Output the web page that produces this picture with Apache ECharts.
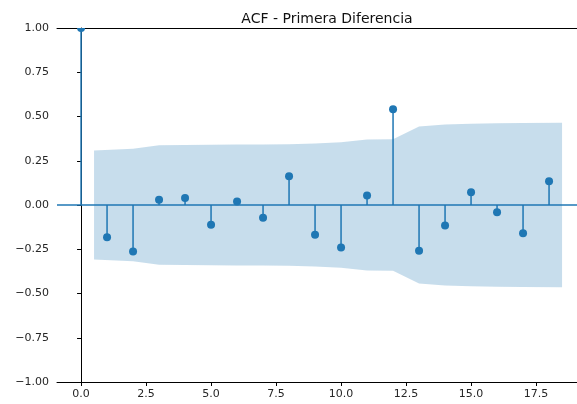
<!DOCTYPE html>
<html><head><meta charset="utf-8">
<script src="https://cdn.jsdelivr.net/npm/echarts@6/dist/echarts.min.js"></script>
<style>html,body{margin:0;padding:0;background:#fff}#c{width:577px;height:404px}</style>
</head><body><div id="c"></div>
<script>
const lags = [0,1,2,3,4,5,6,7,8,9,10,11,12,13,14,15,16,17,18];
const acfValues = [1.0,-0.182,-0.263,0.03,0.04,-0.112,0.02,-0.072,0.163,-0.168,-0.240,0.054,0.541,-0.259,-0.116,0.072,-0.041,-0.159,0.134];
const bandX = [0.5,2,3,4,5,6,7,8,9,10,11,12,13,14,15,16,17,18.5];
const bandHalfWidth = [0.308,0.318,0.338,0.339,0.340,0.342,0.342,0.343,0.348,0.355,0.370,0.372,0.443,0.455,0.459,0.462,0.463,0.465];
const xTicks = [0,2.5,5,7.5,10,12.5,15,17.5];
const titleText = 'ACF - Primera Diferencia';

const C = '#1f77b4';
const X_MIN = -0.925, X_MAX = 19.075;
const chart = echarts.init(document.getElementById('c'), null, {renderer:'canvas'});
const pts = lags.map((l,i)=>[l, acfValues[i]]);
chart.setOption({
  animation:false,
  title:{text:titleText, left:322, top:7, textAlign:'center',
    textStyle:{fontFamily:'DejaVu Sans', fontSize:14, fontWeight:'normal', color:'#111'}},
  grid:{left:57, top:28, right:0, bottom:22, show:false},
  xAxis:[{type:'value', min:X_MIN, max:X_MAX,
    axisLine:{show:true, onZero:false, lineStyle:{color:'#000', width:1}},
    axisTick:{show:true, length:4, customValues:xTicks, lineStyle:{color:'#000'}},
    axisLabel:{customValues:xTicks, margin:7, fontFamily:'DejaVu Sans', fontSize:11, color:'#262626',
      formatter:v=>v.toFixed(1)},
    splitLine:{show:false}},
   {type:'value', position:'top', min:X_MIN, max:X_MAX,
    axisLine:{show:true, onZero:false, lineStyle:{color:'#000', width:1}},
    axisTick:{show:false}, axisLabel:{show:false}, splitLine:{show:false}}],
  yAxis:{type:'value', min:-1, max:1, interval:0.25,
    axisLine:{show:true, lineStyle:{color:'#000', width:1}},
    axisTick:{show:true, length:4, lineStyle:{color:'#000'}},
    axisLabel:{margin:8, fontFamily:'DejaVu Sans', fontSize:11, color:'#262626',
      formatter:v=>v.toFixed(2).replace('-','\u2212')},
    splitLine:{show:false}},
  series:[
    {type:'custom', data:[[0,0]], silent:true, z:1,
      renderItem:function(params, api){
        const upper = bandX.map((x,i)=>api.coord([x, bandHalfWidth[i]]));
        const lower = bandX.map((x,i)=>api.coord([x, -bandHalfWidth[i]])).reverse();
        return {type:'polygon', shape:{points:upper.concat(lower)}, style:{fill:'rgba(31,119,180,0.25)'}};
      }},
    {type:'line', data:[[X_MIN,0],[X_MAX,0]], showSymbol:false, silent:true, z:2,
      lineStyle:{color:C, width:1.5}},
    {type:'custom', data:pts, silent:true, z:3, clip:true,
      renderItem:function(params, api){
        const p0 = api.coord([api.value(0), 0]);
        const p1 = api.coord([api.value(0), api.value(1)]);
        return {type:'group', children:[
          {type:'line', shape:{x1:p0[0], y1:p0[1], x2:p1[0], y2:p1[1]}, style:{stroke:C, lineWidth:1.5}},
          {type:'circle', shape:{cx:p1[0], cy:p1[1], r:4}, style:{fill:C}}
        ]};
      }}
  ]
});
</script></body></html>
